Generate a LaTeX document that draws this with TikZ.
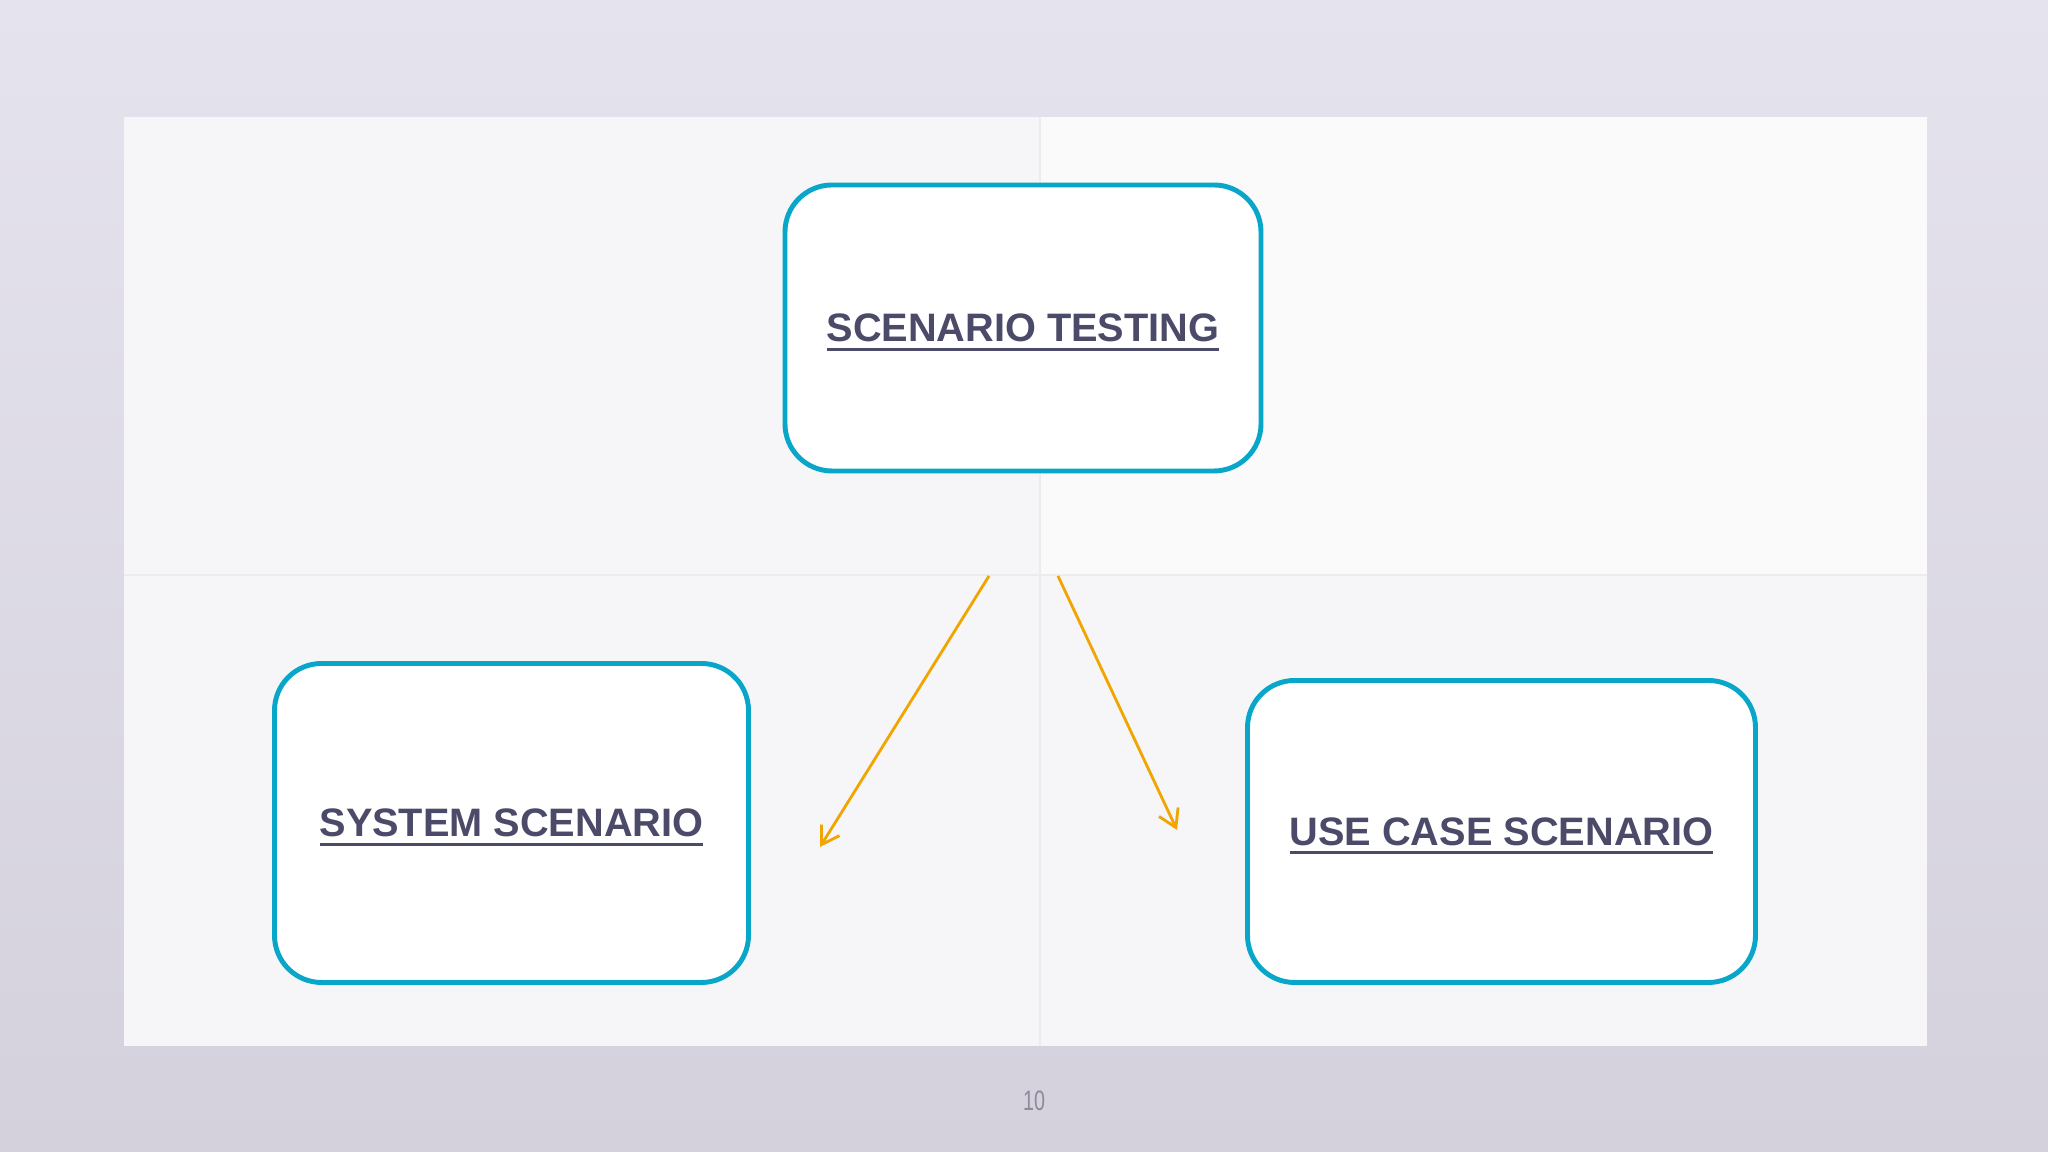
\documentclass[tikz,border=0pt]{standalone}
\usepackage{fontspec}
\usepackage{tikz}
\usetikzlibrary{arrows.meta,positioning}
\setsansfont{Liberation Sans}
\newcommand{\thickul}[1]{\setbox0\hbox{#1}\rlap{\smash{\rule[-2.6pt]{\wd0}{0.85pt}}}\box0}
\definecolor{wallcol}{RGB}{229,227,237}
\definecolor{wallbot}{RGB}{212,209,220}
\definecolor{papercol}{RGB}{246,246,248}
\definecolor{foldcol}{RGB}{236,236,240}
\definecolor{boxcol}{RGB}{8,166,200}
\definecolor{textcol}{RGB}{75,75,105}
\definecolor{arrowcol}{RGB}{240,165,0}
\definecolor{numcol}{RGB}{140,138,155}

\begin{document}
\begin{tikzpicture}[>={Straight Barb[length=4.9pt,width=6pt]}]
    \tikzset{scenbox/.style = {draw=boxcol, line width=1.4pt, fill=white,
	rounded corners=0.47cm, font=\sffamily\bfseries\fontsize{11.3}{13}\selectfont,
	text=textcol, inner sep=0pt}}
    \tikzset{flow/.style = {->, arrowcol, line width=0.8pt}}

	\useasboundingbox (0,0) rectangle (20.48,11.52);

	% wall and folded sheet
	\shade[top color=wallcol, bottom color=wallbot] (0,0) rectangle (20.48,11.52);
	\fill[papercol] (1.24,1.06) rectangle (19.27,10.35);
	\fill[white, opacity=0.5] (10.40,5.77) rectangle (19.27,10.35);
	\draw[foldcol, line width=0.6pt] (1.24,5.77) -- (19.27,5.77);
	\draw[foldcol, line width=0.4pt] (10.40,1.06) -- (10.40,10.35);

	\begin{scope}[on grid]
		\path
			node[scenbox, minimum width=4.76cm, minimum height=2.86cm]
				(test) at (10.23,8.24) {\thickul{SCENARIO TESTING}}
			node[scenbox, minimum width=4.74cm, minimum height=3.19cm,
				below left=4.95cm and 5.115cm of test]
				(system) {\thickul{SYSTEM SCENARIO}}
			node[scenbox, minimum width=5.08cm, minimum height=3.02cm,
				below right=5.035cm and 4.785cm of test]
				(usecase) {\thickul{USE CASE SCENARIO}}
		;

		\coordinate (s1) at (9.89,5.76);
		\coordinate (e1) at (8.20,3.05);
		\coordinate (s2) at (10.58,5.76);
		\coordinate (e2) at (11.77,3.22);

		\draw[flow] (s1) -- (e1);
		\draw[flow] (s2) -- (e2);
	\end{scope}

	\node[numcol, font=\sffamily\fontsize{8}{9}\selectfont, xscale=0.7]
		(page) at (10.34,0.51) {10};
\end{tikzpicture}
\end{document}
